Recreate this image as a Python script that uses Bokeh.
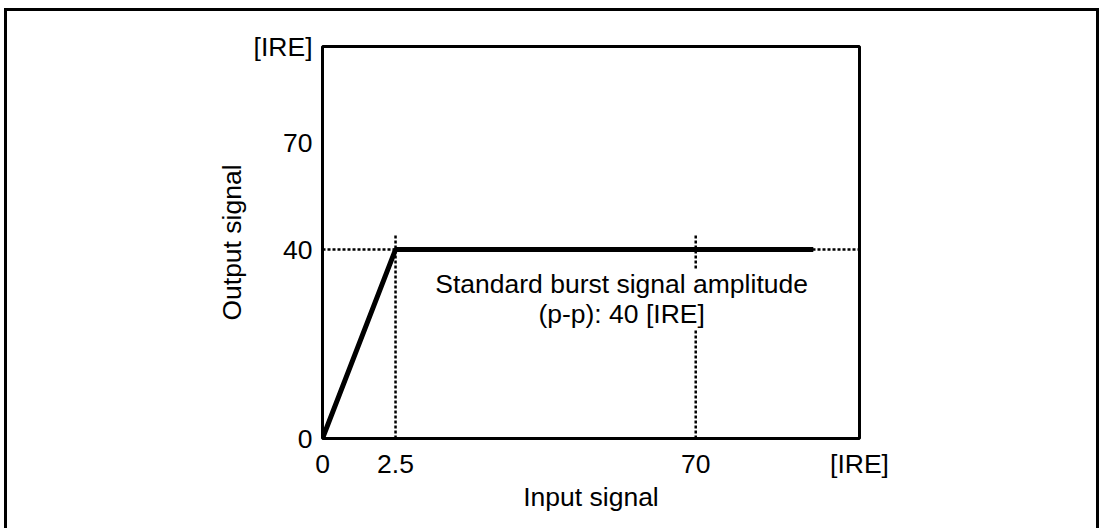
from bokeh.plotting import figure
from bokeh.models import Range1d, FixedTicker, Label
from bokeh.embed import file_html
from bokeh.resources import INLINE

# Schematic axis positions (percent of axis length) and their labels
input_tick_pos = [0, 13.6, 69.5, 100]
input_tick_labels = ["0", "2.5", "70", "[IRE]"]
output_tick_pos = [0, 48.2, 75.3, 100]
output_tick_labels = ["0", "40", "70", "[IRE]"]

# Transfer curve (schematic units)
curve_x = [0, 13.6, 91.4]
curve_y = [0, 48.2, 48.2]

# Reference guide lines
guide_h_y = 48.2
guide_v_x = [13.6, 69.5]
guide_v_top = 52.3

note_text = "Standard burst signal amplitude\n(p-p): 40 [IRE]"
note_x, note_y = 55.7, 35.5

FONT = "Liberation Sans"
FS = "26.5px"

p = figure(width=1095, height=520, output_backend="svg", toolbar_location=None,
           x_range=Range1d(0, 100), y_range=Range1d(0, 100),
           min_border_left=315, min_border_right=243, min_border_top=35, min_border_bottom=93)
p.styles = {"border-left": "3px solid black", "border-top": "3px solid black",
            "border-right": "3px solid black", "margin-left": "4px", "margin-top": "8px"}
p.grid.visible = False
p.outline_line_color = "black"
p.outline_line_width = 3
p.outline_line_alpha = 1

for ax, pos, labs in [(p.xaxis[0], input_tick_pos, input_tick_labels),
                      (p.yaxis[0], output_tick_pos, output_tick_labels)]:
    ax.ticker = FixedTicker(ticks=pos)
    ax.major_label_overrides = {pos[i]: labs[i] for i in range(len(pos))}
    ax.axis_line_color = None
    ax.major_tick_line_color = None
    ax.minor_tick_line_color = None
    ax.major_tick_in = 0
    ax.major_tick_out = 0
    ax.major_label_text_font = FONT
    ax.major_label_text_font_size = FS
    ax.major_label_text_color = "black"
    ax.axis_label_text_font = FONT
    ax.axis_label_text_font_size = FS
    ax.axis_label_text_font_style = "normal"
    ax.axis_label_text_color = "black"

p.xaxis.axis_label = "Input signal"
p.yaxis.axis_label = "Output signal"
p.xaxis.major_label_standoff = 10
p.yaxis.major_label_standoff = 10
p.xaxis.axis_label_standoff = 0
p.yaxis.axis_label_standoff = 4

p.line(x=[0, 100], y=[guide_h_y, guide_h_y], line_color="black", line_width=2.5, line_dash="3 2")
for gx in guide_v_x:
    p.line(x=[gx, gx], y=[0, guide_v_top], line_color="black", line_width=2.5, line_dash="3 2")

p.line(x=curve_x, y=curve_y, line_color="black", line_width=5)

p.add_layout(Label(x=note_x, y=note_y, text=note_text, text_align="center",
                   text_baseline="middle", text_font=FONT, text_font_size=FS,
                   text_color="black", background_fill_color="white",
                   text_line_height=1.0))

open("out.html", "w").write(file_html(p, INLINE))
